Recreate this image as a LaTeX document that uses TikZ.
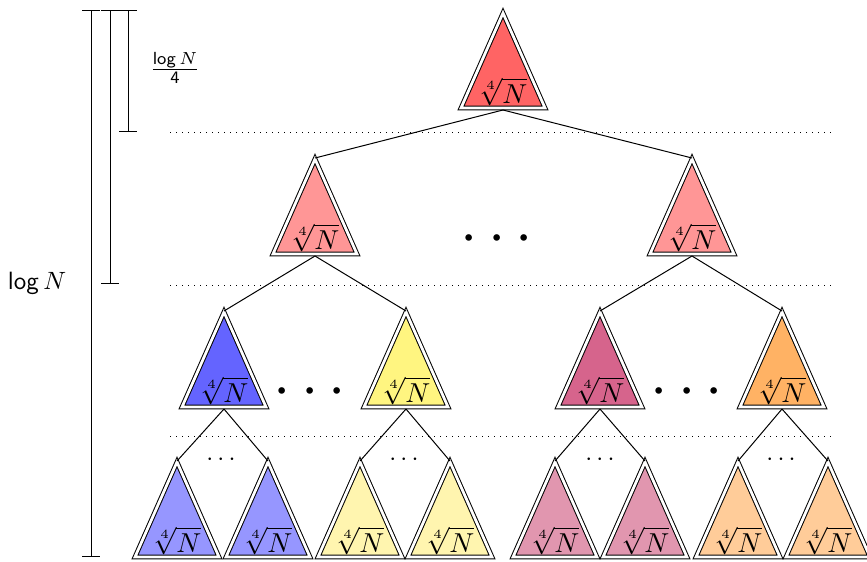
\documentclass[tikz,border=0pt]{standalone}
\usetikzlibrary{arrows.meta}
\definecolor{cA}{RGB}{255,100,100}
\definecolor{cB}{RGB}{255,150,150}
\definecolor{cBlue}{RGB}{100,100,255}
\definecolor{cBlueL}{RGB}{150,150,255}
\definecolor{cYel}{RGB}{255,245,128}
\definecolor{cYelL}{RGB}{255,245,175}
\definecolor{cMag}{RGB}{214,100,140}
\definecolor{cMagL}{RGB}{225,150,175}
\definecolor{cOr}{RGB}{255,178,100}
\definecolor{cOrL}{RGB}{255,204,153}
\newcommand\mytri[4]{%
  \path[tri,fill=#4] (#2,#3) -- (#2-42,#3+95) -- (#2+42,#3+95) -- cycle;
  \coordinate (#1t) at (#2,#3-1);
  \coordinate (#1b) at (#2,#3+97);
  \node[lbl] (#1) at (#2,#3+79) {$\sqrt[4]{N}$};
}
\begin{document}
\begin{tikzpicture}[x=0.4pt,y=-0.4pt,
  tri/.style={draw,double,double distance=1.1pt},
  lbl/.style={inner sep=0pt,font=\fontsize{11}{13}\selectfont},
  edge/.style={draw},
  sep/.style={dotted},
  bigdots/.style={inner sep=0pt,font=\fontsize{23}{28}\selectfont},
  smalldots/.style={inner sep=0pt},
  brk/.style={{Bar[width=7pt]}-{Bar[width=7pt]}}]
\useasboundingbox (0,0) rectangle (867,561);
% level 1
\mytri{a}{503}{13}{cA}
% level 2
\mytri{b1}{315}{159}{cB}
\mytri{b2}{692}{159}{cB}
% level 3
\mytri{c1}{224}{312}{cBlue}
\mytri{c2}{406}{312}{cYel}
\mytri{c3}{600}{312}{cMag}
\mytri{c4}{782}{312}{cOr}
% level 4
\mytri{d1}{177}{462}{cBlueL}
\mytri{d2}{268}{462}{cBlueL}
\mytri{d3}{360}{462}{cYelL}
\mytri{d4}{450}{462}{cYelL}
\mytri{d5}{555}{462}{cMagL}
\mytri{d6}{645}{462}{cMagL}
\mytri{d7}{738}{462}{cOrL}
\mytri{d8}{828}{462}{cOrL}
% edges
\draw[edge] (ab) -- (b1t);
\draw[edge] (ab) -- (b2t);
\draw[edge] (b1b) -- (c1t);
\draw[edge] (b1b) -- (c2t);
\draw[edge] (b2b) -- (c3t);
\draw[edge] (b2b) -- (c4t);
\draw[edge] (c1b) -- (d1t);
\draw[edge] (c1b) -- (d2t);
\draw[edge] (c2b) -- (d3t);
\draw[edge] (c2b) -- (d4t);
\draw[edge] (c3b) -- (d5t);
\draw[edge] (c3b) -- (d6t);
\draw[edge] (c4b) -- (d7t);
\draw[edge] (c4b) -- (d8t);
% separators
\coordinate (s1l) at (170,132); \coordinate (s1r) at (836,132);
\coordinate (s2l) at (170,285); \coordinate (s2r) at (836,285);
\coordinate (s3l) at (170,436); \coordinate (s3r) at (836,436);
\draw[sep] (s1l) -- (s1r);
\draw[sep] (s2l) -- (s2r);
\draw[sep] (s3l) -- (s3r);
% dots
\node[bigdots] (g1) at (497,240) {$\cdots$};
\node[bigdots] (g2) at (310,393) {$\cdots$};
\node[bigdots] (g3) at (687,393) {$\cdots$};
\node[smalldots] (h1) at (221,460) {$\cdots$};
\node[smalldots] (h2) at (404,460) {$\cdots$};
\node[smalldots] (h3) at (600,460) {$\cdots$};
\node[smalldots] (h4) at (781,460) {$\cdots$};
% brackets
\coordinate (k1t) at (91,10); \coordinate (k1b) at (91,557);
\coordinate (k2t) at (110,10); \coordinate (k2b) at (110,284);
\coordinate (k3t) at (128,10); \coordinate (k3b) at (128,132);
\draw[brk] (k1t) -- (k1b);
\draw[brk] (k2t) -- (k2b);
\draw[brk] (k3t) -- (k3b);
\node (L1) at (37,283) {$\mathsf{log}\,N$};
\node (L2) at (175,68) {$\frac{\mathsf{log}\,N}{\mathsf{4}}$};
\end{tikzpicture}
\end{document}
